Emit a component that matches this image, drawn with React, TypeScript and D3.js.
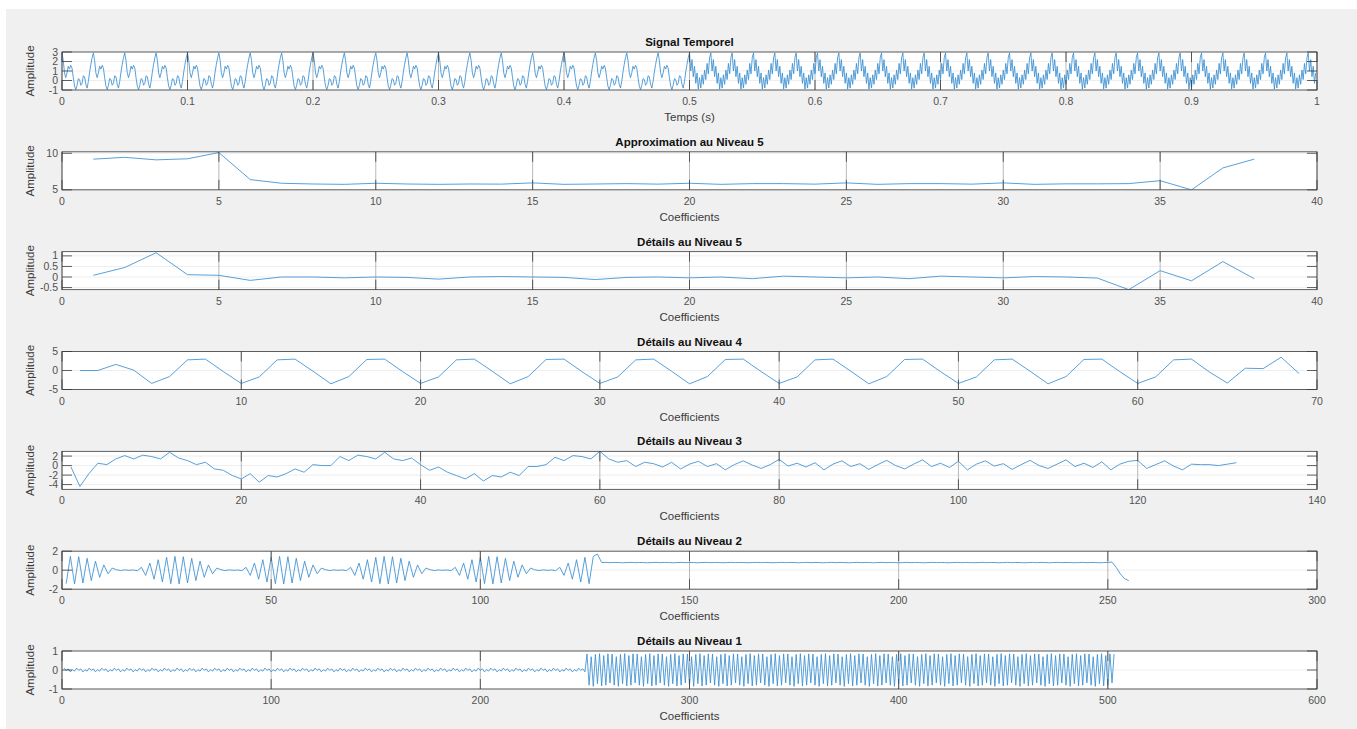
import React from "react";
import * as d3 from "d3";

// ---------- data ----------
// Time signal, 1000 samples at 1 kHz. One period of each half is listed.
const sampleRate = 1000;
const signalLength = 1000;
const signalPeriodFirstHalf = [
  2.9, 2.1, 0.8, 0.3, 0.8, 1.5, 1.2, 1.6, 1.3, 0.3, -0.6, -0.95, -0.5, 0.2, 0.1,
  -0.5, -0.3, 0.5, 0.4, -0.4, -0.8, -0.1, 0.9, 1.7, 2.4,
];
const signalPeriodSecondHalf = [
  2.9, 1.0, 2.2, 0.4, 1.5, -0.3, 0.8, -0.9, 0.3, -0.8, 0.6, -0.4, 1.1, 0.1, 1.8, 0.7, 2.4,
];

// Approximation coefficients, level 5
const approx5 = [
  9.2, 9.45, 9.1, 9.25, 10.1, 6.4, 5.9, 5.8, 5.75, 5.9, 5.8, 5.75, 5.8, 5.78, 5.95,
  5.75, 5.8, 5.85, 5.78, 5.9, 5.75, 5.85, 5.85, 5.78, 5.95, 5.75, 5.85, 5.85, 5.78,
  5.95, 5.75, 5.82, 5.82, 5.85, 6.25, 5.0, 8.0, 9.2,
];

// Detail coefficients, level 5
const detail5 = [
  0.08, 0.45, 1.15, 0.11, 0.08, -0.16, 0, 0, -0.04, 0, -0.02, -0.1, 0, 0.02, 0,
  -0.02, -0.12, -0.02, 0, -0.04, 0, -0.08, 0.04, 0, -0.04, 0.0, -0.08, 0.04, 0,
  -0.04, 0.02, 0, -0.05, -0.6, 0.3, -0.18, 0.73, -0.08,
];

// Detail coefficients, level 4
const detail4 = [
  0, 0, 1.6, 0.1, -3.4, -1.6, 2.8, 3.0, -0.3, -3.4,
  -1.7, 2.8, 3.0, -0.2, -3.5, -1.6, 2.9, 3.0, -0.3, -3.4,
  -1.7, 2.8, 3.0, -0.2, -3.5, -1.6, 2.9, 3.0, -0.3, -3.4,
  -1.7, 2.8, 3.0, -0.2, -3.5, -1.6, 2.9, 3.0, -0.3, -3.4,
  -1.7, 2.8, 3.0, -0.2, -3.5, -1.6, 2.9, 3.0, -0.3, -3.4,
  -1.7, 2.8, 3.0, -0.2, -3.5, -1.6, 2.9, 3.0, -0.3, -3.4,
  -1.7, 2.8, 3.0, -0.4, -3.3, 0.6, 0.5, 3.5, -0.8,
];

// Detail coefficients, level 3
const detail3 = [
  -0.3, -4.4, -1.7, 0.5, 0.2, 1.4, 2.1, 1.4, 2.2, 1.9,
  1.4, 2.8, 1.6, 1.05, 0.2, 0.7, -0.7, -1.0, -2.1, -2.8,
  -1.7, -3.5, -2.1, -2.4, -1.7, -0.7, -1.4, 0.2, 0.0, 0.0,
  1.9, 1.05, 2.2, 1.9, 1.4, 2.8, 1.4, 1.05, 1.6, 0.2,
  -1.0, -0.3, -1.4, -2.1, -2.8, -1.7, -3.25, -2.1, -2.4, -1.4,
  -2.1, -0.2, -0.2, 0.2, 1.75, 1.05, 2.1, 1.9, 1.4, 3.0,
  1.4, 0.7, 1.05, -0.2, 0.7, 0.4, -0.3, 0.7, -0.7, 0.3,
  0.9, -0.2, 0.4, -0.9, 0.2, 1.0, 0.1, -0.6, 0.2, 1.3,
  -0.1, 0.5, -0.3, 0.6, -0.9, 0.3, 1.0, -0.2, 0.4, -0.8,
  0.2, 1.1, 0.0, -0.7, 0.3, 1.2, -0.2, 0.5, -0.4, 0.9,
  -0.9, 0.3, 1.0, -0.1, 0.4, -0.8, 0.2, 1.1, 0.0, -0.6,
  0.3, 1.2, -0.2, 0.5, -0.4, 0.8, -0.9, 0.3, 0.9, 1.1,
  -0.6, 0.2, 1.0, -0.1, -0.9, 0.3, 0.2, 0.2, 0.0, 0.3, 0.6,
];

// Detail coefficients, level 2: bursts separated by quiet gaps, then a plateau
const detail2Burst = [
  0.3, -0.55, 0.75, -0.95, 1.1, -1.25, 1.35, -1.42, 1.45, -1.45, 1.42, -1.35, 1.25,
  -1.1, 0.95, -0.75, 0.55, -0.38, 0.22,
];
const detail2Gap = [0.05, -0.04, 0.03, -0.02, 0.02, -0.05];
const detail2Plateau = [0.8, 0.82, 0.79, 0.81, 0.8, 0.78];
const detail2Spike = [1.7];
const detail2Tail = [0.85, 0.3, -0.4, -0.9, -1.1];
const detail2Length = 255;

// Detail coefficients, level 1: small ripple then a strong alternating block
const detail1Ripple = [0.1, -0.02, 0.06, -0.1, 0.02, -0.06];
const detail1Block = [0.84, -0.8, 0.7, -0.86, 0.82, -0.72, 0.86, -0.84, 0.76, -0.8, 0.85, -0.68];
const detail1RippleCount = 250;
const detail1Length = 503;

const timeTicks = [0, 0.1, 0.2, 0.3, 0.4, 0.5, 0.6, 0.7, 0.8, 0.9, 1];

// ---------- series assembly ----------
function cycle(period: number[], count: number, offset = 0): number[] {
  const out: number[] = [];
  for (let i = 0; i < count; i++) out.push(period[(i + offset) % period.length]);
  return out;
}

const signal = [
  ...cycle(signalPeriodFirstHalf, signalLength / 2),
  ...cycle(signalPeriodSecondHalf, signalLength / 2),
];
const signalTime = signal.map((_, i) => i / sampleRate);

const detail2: number[] = [
  ...detail2Burst.slice(7),
  ...[0, 1, 2, 3].flatMap(() => [...detail2Gap, ...detail2Burst]),
  ...detail2Gap,
  ...detail2Burst.slice(0, 9),
  ...detail2Spike,
];
const plateauCount = detail2Length - detail2.length - detail2Tail.length;
detail2.push(...cycle(detail2Plateau, plateauCount), ...detail2Tail);

const detail1 = [
  ...cycle(detail1Ripple, detail1RippleCount),
  ...cycle(detail1Block, detail1Length - detail1RippleCount),
];

const coefIndex = (arr: number[]) => arr.map((_, i) => i + 1);

type PanelSpec = {
  title: string;
  xlabel: string;
  xs: number[];
  ys: number[];
  xDomain: [number, number];
  xTicks: number[];
  yDomain: [number, number];
  yTicks: number[];
};

const panels: PanelSpec[] = [
  {
    title: "Signal Temporel", xlabel: "Temps (s)", xs: signalTime, ys: signal,
    xDomain: [0, 1], xTicks: timeTicks, yDomain: [-1, 3], yTicks: [-1, 0, 1, 2, 3],
  },
  {
    title: "Approximation au Niveau 5", xlabel: "Coefficients", xs: coefIndex(approx5), ys: approx5,
    xDomain: [0, 40], xTicks: d3.range(0, 41, 5), yDomain: [5, 10.2], yTicks: [5, 10],
  },
  {
    title: "Détails au Niveau 5", xlabel: "Coefficients", xs: coefIndex(detail5), ys: detail5,
    xDomain: [0, 40], xTicks: d3.range(0, 41, 5), yDomain: [-0.6, 1.2], yTicks: [-0.5, 0, 0.5, 1],
  },
  {
    title: "Détails au Niveau 4", xlabel: "Coefficients", xs: coefIndex(detail4), ys: detail4,
    xDomain: [0, 70], xTicks: d3.range(0, 71, 10), yDomain: [-5, 5], yTicks: [-5, 0, 5],
  },
  {
    title: "Détails au Niveau 3", xlabel: "Coefficients", xs: coefIndex(detail3), ys: detail3,
    xDomain: [0, 140], xTicks: d3.range(0, 141, 20), yDomain: [-5, 3], yTicks: [-4, -2, 0, 2],
  },
  {
    title: "Détails au Niveau 2", xlabel: "Coefficients", xs: coefIndex(detail2), ys: detail2,
    xDomain: [0, 300], xTicks: d3.range(0, 301, 50), yDomain: [-2, 2], yTicks: [-2, 0, 2],
  },
  {
    title: "Détails au Niveau 1", xlabel: "Coefficients", xs: coefIndex(detail1), ys: detail1,
    xDomain: [0, 600], xTicks: d3.range(0, 601, 100), yDomain: [-1, 1], yTicks: [-1, 0, 1],
  },
];

// ---------- layout ----------
const W = 1357;
const H = 729;
const LEFT = 62;
const RIGHT = 1317;
const FRAME_H = 38;
const FIRST_TOP = 52;
const LAST_TOP = 651;
const TICK = 10;
const LINE_COLOR = "#3a8fd2";
const AXIS_COLOR = "#3a3a3a";
const FONT = "'Liberation Sans', Arial, Helvetica, sans-serif";

const fmt = (v: number) => String(Math.round(v * 1000) / 1000);

function Panel({ p, top, idx }: { p: PanelSpec; top: number; idx: number }) {
  const x = d3.scaleLinear().domain(p.xDomain).range([LEFT, RIGHT]);
  const y = d3.scaleLinear().domain(p.yDomain).range([top + FRAME_H, top]);
  const path = d3
    .line<number>()
    .x((_, i) => x(p.xs[i]))
    .y((d) => y(d))(p.ys);
  const clipId = `axes-clip-${idx}`;
  const bottom = top + FRAME_H;
  const mid = top + FRAME_H / 2;
  return (
    <g>
      <defs>
        <clipPath id={clipId}>
          <rect x={LEFT} y={top} width={RIGHT - LEFT} height={FRAME_H} />
        </clipPath>
      </defs>
      <rect x={LEFT} y={top} width={RIGHT - LEFT} height={FRAME_H} fill="#ffffff" />
      {p.yTicks.map((t) => (
        <line key={`gy${t}`} x1={LEFT} x2={RIGHT} y1={y(t)} y2={y(t)} stroke="#e6e6e6" strokeWidth={0.7} />
      ))}
      {p.xTicks.map((t) => (
        <line key={`gx${t}`} x1={x(t)} x2={x(t)} y1={top} y2={bottom} stroke="#9a9a9a" strokeWidth={0.7} />
      ))}
      <path d={path ?? ""} fill="none" stroke={LINE_COLOR} strokeWidth={0.85} clipPath={`url(#${clipId})`} />
      {p.xTicks.map((t) => (
        <g key={`tx${t}`} stroke={AXIS_COLOR} strokeWidth={0.8}>
          <line x1={x(t)} x2={x(t)} y1={bottom} y2={bottom - TICK} />
          <line x1={x(t)} x2={x(t)} y1={top} y2={top + TICK} />
        </g>
      ))}
      {p.yTicks.map((t) => (
        <g key={`ty${t}`} stroke={AXIS_COLOR} strokeWidth={0.8}>
          <line x1={LEFT} x2={LEFT + TICK} y1={y(t)} y2={y(t)} />
          <line x1={RIGHT} x2={RIGHT - TICK} y1={y(t)} y2={y(t)} />
        </g>
      ))}
      <rect x={LEFT} y={top} width={RIGHT - LEFT} height={FRAME_H} fill="none" stroke={AXIS_COLOR} strokeWidth={0.8} />
      {p.xTicks.map((t) => (
        <text key={`lx${t}`} x={x(t)} y={bottom + 15} textAnchor="middle" fontSize={10.5} fill="#505050">
          {fmt(t)}
        </text>
      ))}
      {p.yTicks.map((t) => (
        <text key={`ly${t}`} x={LEFT - 4} y={y(t) + 3.5} textAnchor="end" fontSize={10.5} fill="#505050">
          {fmt(t)}
        </text>
      ))}
      <text x={(LEFT + RIGHT) / 2} y={top - 6} textAnchor="middle" fontSize={11.5} fontWeight="bold" fill="#111">
        {p.title}
      </text>
      <text x={(LEFT + RIGHT) / 2} y={bottom + 31} textAnchor="middle" fontSize={11.5} fill="#3a3a3a">
        {p.xlabel}
      </text>
      <text
        transform={`translate(${34},${mid}) rotate(-90)`}
        textAnchor="middle"
        fontSize={11.5}
        fill="#3a3a3a"
      >
        Amplitude
      </text>
    </g>
  );
}

export default function App() {
  const step = (LAST_TOP - FIRST_TOP) / (panels.length - 1);
  return (
    <svg
      width={W}
      height={H}
      style={{ position: "absolute", left: 0, top: 0, background: "#ffffff" }}
      fontFamily={FONT}
    >
      <rect x={6} y={9} width={W - 6} height={H - 9} fill="#f0f0f0" />
      {panels.map((p, i) => (
        <Panel key={p.title} p={p} top={FIRST_TOP + i * step} idx={i} />
      ))}
    </svg>
  );
}
